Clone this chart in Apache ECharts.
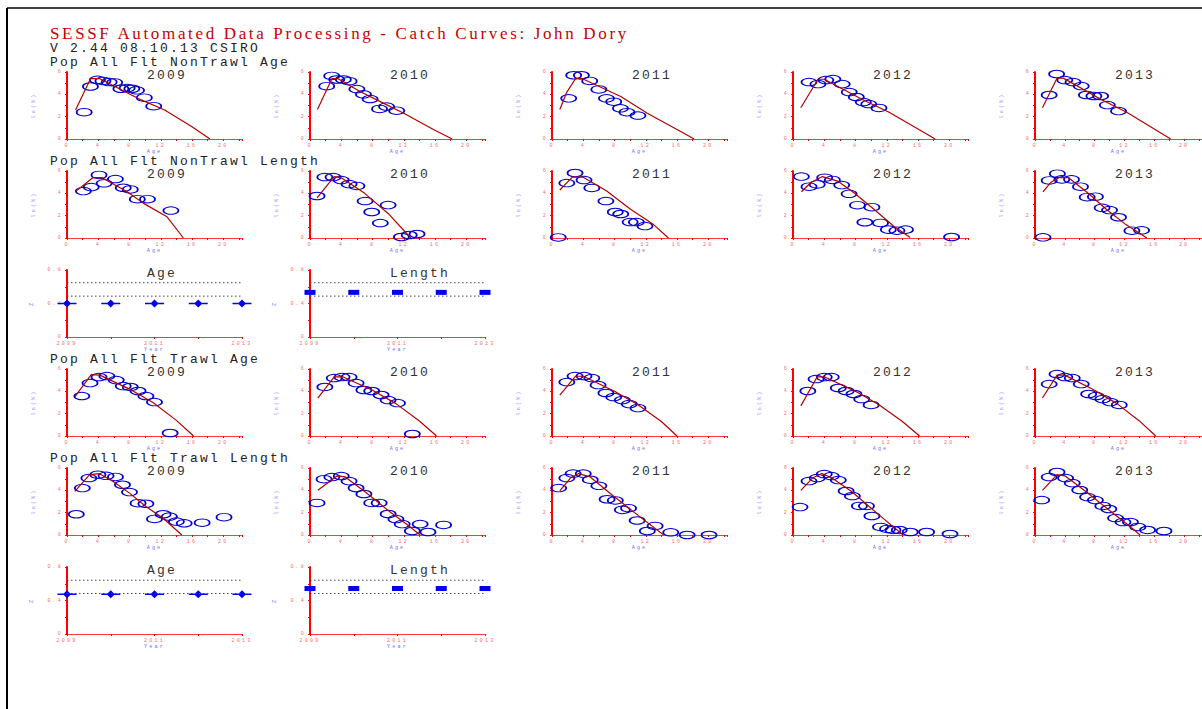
<!DOCTYPE html>
<html>
<head>
<meta charset="utf-8">
<script src="https://cdn.jsdelivr.net/npm/echarts@6/dist/echarts.min.js"></script>
<style>
  html, body { margin: 0; padding: 0; background: #fff; }
  #chart { width: 1202px; height: 709px; }
  #chart text { letter-spacing: 2.2px; }
  #chart text[style*="Serif"] { letter-spacing: 2.65px; }
</style>
</head>
<body>
<div id="chart"></div>
<script>
// ---- text ----
const mainTitle = 'SESSF Automated Data Processing - Catch Curves: John Dory';
const subTitle = 'V 2.44 08.10.13 CSIRO';
const years = [2009, 2010, 2011, 2012, 2013];

// ---- catch curves: observed ln(N) at age, one list per year ----
const nonTrawlAgeObs = [
  [[2.2,2.4],[3.0,4.7],[3.9,5.3],[4.6,5.2],[5.4,5.1],[6.1,5.07],[6.9,4.5],[7.7,4.56],[8.3,4.5],[8.9,4.36],[9.9,3.7],[11.1,2.94]],
  [[2.14,4.73],[2.78,5.65],[3.42,5.33],[4.27,5.33],[5.0,5.18],[6.0,4.47],[6.84,4.0],[7.7,3.58],[8.9,2.69],[9.8,2.9],[11.1,2.54]],
  [[2.14,3.64],[2.78,5.71],[3.76,5.71],[4.83,5.2],[6.0,4.44],[6.97,3.64],[7.9,3.34],[8.76,2.75],[9.6,2.4],[11.0,2.1]],
  [[2.05,5.1],[3.2,4.92],[4.2,5.28],[5.1,5.37],[6.3,4.92],[7.2,4.2],[8.1,3.76],[9.0,3.31],[9.7,3.13],[11.0,2.78]],
  [[1.9,3.94],[2.9,5.82],[4.0,5.28],[5.1,5.1],[6.2,4.74],[6.9,3.94],[7.9,3.85],[8.8,3.85],[9.7,3.04],[11.2,2.5]]
];
const nonTrawlAgeFit = [
  [[1.1,2.6],[3.0,5.4],[4.2,5.4],[9.5,3.5],[12.5,2.6],[16.0,1.1],[18.3,0]],
  [[0.95,2.65],[2.8,5.4],[3.6,5.4],[6.4,4.25],[9.0,3.35],[12.0,2.3],[15.8,0.85],[18.2,0]],
  [[1.0,2.65],[1.9,4.2],[3.0,5.4],[3.9,5.4],[8.8,3.8],[12.2,2.3],[16.0,0.85],[18.2,0]],
  [[1.0,2.8],[3.2,5.35],[4.0,5.35],[9.0,3.5],[12.3,2.4],[16.0,0.9],[18.2,0]],
  [[1.0,2.8],[2.95,5.45],[3.8,5.45],[9.0,3.5],[12.3,2.4],[16.0,0.9],[18.2,0]]
];

const nonTrawlLenObs = [
  [[2.1,4.2],[3.1,4.56],[4.1,5.65],[4.75,4.9],[6.2,5.28],[7.2,4.5],[8.1,4.35],[9.0,3.48],[10.3,3.48],[13.3,2.46]],
  [[0.9,3.76],[1.9,5.46],[2.95,5.46],[4.0,5.19],[5.0,4.83],[6.0,4.66],[7.05,3.31],[7.9,2.33],[9.0,1.34],[10.0,2.95],[11.7,0.09],[12.7,0.27],[13.7,0.36]],
  [[0.8,0.05],[1.9,4.92],[2.95,5.82],[4.1,5.19],[5.1,4.48],[6.9,3.31],[8.1,2.33],[8.8,2.15],[10.0,1.43],[10.8,1.43],[11.9,1.07]],
  [[1.07,5.5],[2.05,4.6],[3.1,4.8],[4.06,5.4],[5.04,5.2],[6.24,4.74],[7.18,3.96],[8.25,2.94],[9.2,1.41],[10.1,2.76],[11.2,1.35],[12.2,0.75],[13.3,0.66],[14.4,0.75],[20.3,0.09]],
  [[1.07,0.06],[1.9,5.16],[3.0,5.76],[3.6,5.25],[4.9,5.25],[6.1,4.6],[7.0,3.66],[8.1,3.7],[9.0,2.7],[10.0,2.5],[11.2,1.86],[13.0,0.66],[14.3,0.69]]
];
const nonTrawlLenFit = [
  [[1.15,4.2],[3.3,5.4],[4.5,5.4],[7.7,4.15],[9.8,3.1],[12.8,1.9],[14.9,0]],
  [[0.9,3.6],[3.1,5.5],[4.0,5.4],[7.0,4.0],[10.0,2.2],[12.9,0]],
  [[1.0,4.3],[2.6,5.45],[4.0,5.45],[7.0,4.2],[10.0,2.6],[13.0,1.2],[14.9,0]],
  [[1.07,4.14],[2.26,4.95],[3.76,5.5],[5.7,5.1],[7.8,4.05],[10.4,2.55],[12.9,1.05],[15.0,0.05]],
  [[1.07,4.14],[2.14,5.0],[3.2,5.4],[4.5,5.4],[7.05,4.05],[9.6,2.55],[12.2,1.2],[15.0,0]]
];

const trawlAgeObs = [
  [[1.9,3.58],[2.95,4.74],[4.1,5.28],[5.1,5.37],[6.3,5.01],[7.2,4.47],[8.1,4.39],[9.1,4.03],[10.1,3.58],[11.2,3.04],[13.2,0.27]],
  [[1.9,4.39],[3.1,5.19],[4.1,5.28],[5.0,5.28],[5.9,4.74],[6.9,4.12],[7.9,4.03],[9.1,3.67],[10.0,3.22],[11.2,2.95],[13.1,0.18]],
  [[1.9,4.83],[2.95,5.37],[4.1,5.37],[5.1,5.19],[5.9,4.56],[6.9,3.85],[7.9,3.49],[9.0,3.22],[9.9,2.86],[11.0,2.5]],
  [[1.9,4.03],[2.95,5.1],[4.0,5.28],[4.9,5.28],[5.8,4.3],[6.8,4.03],[7.8,3.76],[8.8,3.31],[10.0,2.78]],
  [[1.9,4.65],[2.95,5.55],[4.0,5.28],[5.0,5.19],[6.2,4.65],[7.2,3.76],[8.2,3.58],[9.1,3.31],[10.1,3.04],[11.3,2.78]]
];
const trawlAgeFit = [
  [[1.0,3.5],[3.1,5.5],[4.2,5.45],[8.0,4.2],[11.0,3.0],[14.0,1.4],[16.2,0]],
  [[1.0,3.4],[3.1,5.3],[4.2,5.3],[8.0,4.1],[11.0,2.9],[14.0,1.35],[16.2,0]],
  [[1.0,3.65],[3.0,5.35],[4.0,5.35],[8.0,4.0],[11.0,2.8],[14.0,1.3],[16.0,0]],
  [[1.0,2.7],[3.1,5.3],[4.0,5.3],[8.0,4.0],[11.0,2.8],[14.0,1.3],[16.2,0]],
  [[1.0,3.4],[2.95,5.45],[4.0,5.45],[8.0,4.1],[11.0,2.9],[14.0,1.35],[16.2,0]]
];

const trawlLenObs = [
  [[1.19,1.86],[1.96,4.2],[2.8,5.1],[3.96,5.4],[5.0,5.3],[6.2,5.2],[7.1,4.5],[8.0,3.84],[9.1,2.85],[10.1,2.8],[11.2,1.44],[12.3,1.86],[13.1,1.65],[14.0,1.2],[15.0,1.05],[17.3,1.1],[20.1,1.6]],
  [[0.9,2.87],[1.8,5.0],[2.8,5.19],[4.0,5.28],[5.0,4.83],[5.9,4.21],[6.9,3.67],[7.9,2.87],[8.85,2.87],[10.0,1.88],[11.0,1.43],[11.8,0.98],[13.1,0.36],[14.1,0.98],[15.1,0.27],[17.1,0.9]],
  [[0.85,4.2],[1.9,5.1],[2.7,5.5],[4.0,5.5],[4.9,4.95],[6.0,4.4],[7.05,3.2],[8.1,3.1],[9.0,2.25],[9.8,2.4],[10.9,1.3],[12.2,0.36],[13.2,0.81],[15.2,0.24],[17.3,0.0],[20.1,0.0]],
  [[0.9,2.5],[2.05,4.83],[3.1,5.1],[4.0,5.46],[4.9,5.28],[5.8,4.92],[6.8,3.94],[7.6,3.49],[8.5,2.6],[9.4,2.6],[10.1,1.7],[11.2,0.72],[12.1,0.54],[12.8,0.45],[13.6,0.45],[15.0,0.27],[17.1,0.27],[20.1,0.09]],
  [[0.9,3.13],[1.9,5.19],[2.95,5.64],[4.1,5.1],[5.0,4.65],[6.0,4.03],[7.05,3.4],[8.1,3.13],[9.1,2.6],[9.9,2.33],[10.8,1.52],[11.8,1.16],[12.8,1.16],[13.8,0.72],[15.1,0.45],[17.3,0.36]]
];
const trawlLenFit = [
  [[1.0,3.9],[2.9,5.4],[4.1,5.5],[5.9,4.8],[8.0,3.75],[10.1,2.55],[12.3,1.5],[14.7,0]],
  [[1.0,4.0],[3.5,5.3],[4.5,5.2],[7.0,3.9],[10.0,2.2],[12.5,0.9],[14.1,0]],
  [[1.0,3.95],[2.35,5.1],[3.4,5.5],[4.9,5.2],[7.5,3.7],[11.3,1.6],[14.3,0]],
  [[1.0,4.0],[2.5,5.1],[3.7,5.5],[5.0,5.1],[7.5,3.9],[11.0,1.8],[14.1,0]],
  [[1.0,4.0],[2.95,5.4],[4.0,5.3],[7.0,3.8],[10.0,2.2],[12.5,0.9],[14.1,0]]
];

// ---- mortality summaries by year ----
const nonTrawlAgeZ = [0.40, 0.40, 0.40, 0.40, 0.40];
const nonTrawlLenZ = [0.533, 0.533, 0.533, 0.533, 0.533];
const nonTrawlRefLines = [0.648, 0.488];
const trawlAgeZ = [0.475, 0.475, 0.475, 0.475, 0.475];
const trawlLenZ = [0.543, 0.543, 0.543, 0.543, 0.543];
const trawlRefLines = [0.642, 0.484];

// ---- layout ----
const colX = [67, 310, 552, 793, 1035];
const rowTop = [72, 171, 270, 369, 468, 567];
const plotW = 175, plotH = 67;
const mono = 'Liberation Mono';

const catchRows = [
  { row: 0, title: 'Pop All Flt NonTrawl Age', obs: nonTrawlAgeObs, fit: nonTrawlAgeFit },
  { row: 1, title: 'Pop All Flt NonTrawl Length', obs: nonTrawlLenObs, fit: nonTrawlLenFit },
  { row: 3, title: 'Pop All Flt Trawl Age', obs: trawlAgeObs, fit: trawlAgeFit },
  { row: 4, title: 'Pop All Flt Trawl Length', obs: trawlLenObs, fit: trawlLenFit }
];
const summaryRows = [
  { row: 2, age: nonTrawlAgeZ, len: nonTrawlLenZ, ref: nonTrawlRefLines },
  { row: 5, age: trawlAgeZ, len: trawlLenZ, ref: trawlRefLines }
];

const grid = [], xAxis = [], yAxis = [], series = [], graphic = [];

const tickStyle = { color: '#ff0000', width: 1 };
const labelStyle = { fontSize: 5, color: '#ff6a6a', fontFamily: mono };

function addGrid(col, row) {
  grid.push({ left: colX[col], top: rowTop[row], width: plotW, height: plotH });
  return grid.length - 1;
}
function addPanelTitle(text, col, row) {
  graphic.push({
    type: 'text', x: colX[col] + 80, y: rowTop[row] + 3.5,
    style: { text, fontSize: 13, lineHeight: 9, fontFamily: mono, fill: '#333', textVerticalAlign: 'middle' }
  });
}
function addRowTitle(text, row) {
  graphic.push({
    type: 'text', x: 50, y: rowTop[row] - 9.5,
    style: { text, fontSize: 13, lineHeight: 9, fontFamily: mono, fill: '#222', textVerticalAlign: 'middle' }
  });
}

// catch-curve panels
catchRows.forEach(r => {
  addRowTitle(r.title, r.row);
  years.forEach((yr, c) => {
    const g = addGrid(c, r.row);
    xAxis.push({
      gridIndex: g, type: 'value', min: 0, max: 22.4, interval: 4,
      axisLine: { onZero: false, lineStyle: { color: '#ff3a3a', width: 1.2 } },
      axisTick: { length: 2, lineStyle: tickStyle },
      minorTick: { show: true, splitNumber: 2, length: 2, lineStyle: tickStyle },
      splitLine: { show: false },
      axisLabel: Object.assign({ margin: 4, showMaxLabel: false }, labelStyle),
      name: 'Age', nameLocation: 'middle', nameGap: 10,
      nameTextStyle: { fontSize: 5, color: '#6a6aff', fontFamily: mono }
    });
    yAxis.push({
      gridIndex: g, type: 'value', min: 0, max: 6, interval: 2,
      axisLine: { show: true, onZero: false, lineStyle: { color: '#ff0000', width: 2 } },
      axisTick: { show: true, length: 2, lineStyle: tickStyle },
      minorTick: { show: true, splitNumber: 2, length: 2, lineStyle: tickStyle },
      splitLine: { show: false },
      axisLabel: Object.assign({ margin: 4 }, labelStyle),
      name: 'ln(N)', nameLocation: 'middle', nameGap: 31, nameRotate: 90,
      nameTextStyle: { fontSize: 5, color: '#8a8aff', fontFamily: mono }
    });
    series.push({
      type: 'line', xAxisIndex: g, yAxisIndex: g, data: r.fit[c],
      symbol: 'none', silent: true,
      lineStyle: { color: '#b40000', width: 1.2 }
    });
    series.push({
      type: 'scatter', xAxisIndex: g, yAxisIndex: g, data: r.obs[c],
      symbol: 'circle', symbolSize: [15, 7.5], silent: true,
      itemStyle: { color: 'rgba(0,0,0,0)', borderColor: '#0000cc', borderWidth: 1.3, opacity: 1 }
    });
    addPanelTitle(String(yr), c, r.row);
  });
});

// mortality summary panels
const starPath = 'path://M-9.5,-0.7 L-3.3,-0.7 L0,-4 L3.3,-0.7 L9.5,-0.7 L9.5,0.7 L3.3,0.7 L0,4 L-3.3,0.7 L-9.5,0.7 Z';
summaryRows.forEach(s => {
  [['Age', s.age, starPath, [19, 8]], ['Length', s.len, 'rect', [11, 5]]].forEach(([name, vals, sym, size], c) => {
    const g = addGrid(c, s.row);
    xAxis.push({
      gridIndex: g, type: 'value', min: 2009, max: 2013, interval: 2,
      axisLine: { onZero: false, lineStyle: { color: '#ff3a3a', width: 1.2 } },
      axisTick: { length: 2, lineStyle: tickStyle },
      minorTick: { show: true, splitNumber: 2, length: 2, lineStyle: tickStyle },
      splitLine: { show: false },
      axisLabel: Object.assign({ margin: 4, formatter: v => String(v) }, labelStyle),
      name: 'Year', nameLocation: 'middle', nameGap: 10,
      nameTextStyle: { fontSize: 5, color: '#6a6aff', fontFamily: mono }
    });
    yAxis.push({
      gridIndex: g, type: 'value', min: 0, max: 0.8, interval: 0.4,
      axisLine: { show: true, onZero: false, lineStyle: { color: '#ff0000', width: 2 } },
      axisTick: { show: true, length: 2, lineStyle: tickStyle },
      minorTick: { show: true, splitNumber: 2, length: 2, lineStyle: tickStyle },
      splitLine: { show: false },
      axisLabel: Object.assign({ margin: 4, formatter: v => (v === 0 ? '0' : v.toFixed(1)) }, labelStyle),
      name: 'Z', nameLocation: 'middle', nameGap: 33, nameRotate: 90,
      nameTextStyle: { fontSize: 5, color: '#6a6aff', fontFamily: mono }
    });
    s.ref.forEach(v => {
      series.push({
        type: 'line', xAxisIndex: g, yAxisIndex: g, data: [[2009, v], [2013, v]],
        symbol: 'none', silent: true,
        lineStyle: { color: '#444', width: 1, type: [1.5, 2.5] }
      });
    });
    series.push({
      type: 'scatter', xAxisIndex: g, yAxisIndex: g,
      data: years.map((y, i) => [y, vals[i]]),
      symbol: sym, symbolSize: size, silent: true,
      itemStyle: { color: '#0000f0', opacity: 1 }
    });
    addPanelTitle(name, c, s.row);
  });
});

// page frame and headings
graphic.push(
  { type: 'line', shape: { x1: 7, y1: 8, x2: 7, y2: 709 }, style: { stroke: '#000', lineWidth: 2 } },
  { type: 'line', shape: { x1: 7, y1: 8, x2: 1202, y2: 8 }, style: { stroke: '#000', lineWidth: 1.5 } },
  { type: 'text', x: 50, y: 33, style: { text: mainTitle, fontSize: 17, lineHeight: 12, fontFamily: 'Liberation Serif', fill: '#c80000', textVerticalAlign: 'middle' } },
  { type: 'text', x: 50, y: 48, style: { text: subTitle, fontSize: 13, lineHeight: 9, fontFamily: mono, fill: '#222', textVerticalAlign: 'middle' } }
);

const chart = echarts.init(document.getElementById('chart'), null, { renderer: 'svg' });
chart.setOption({
  backgroundColor: '#ffffff',
  animation: false,
  grid, xAxis, yAxis, series, graphic
});
</script>
</body>
</html>
